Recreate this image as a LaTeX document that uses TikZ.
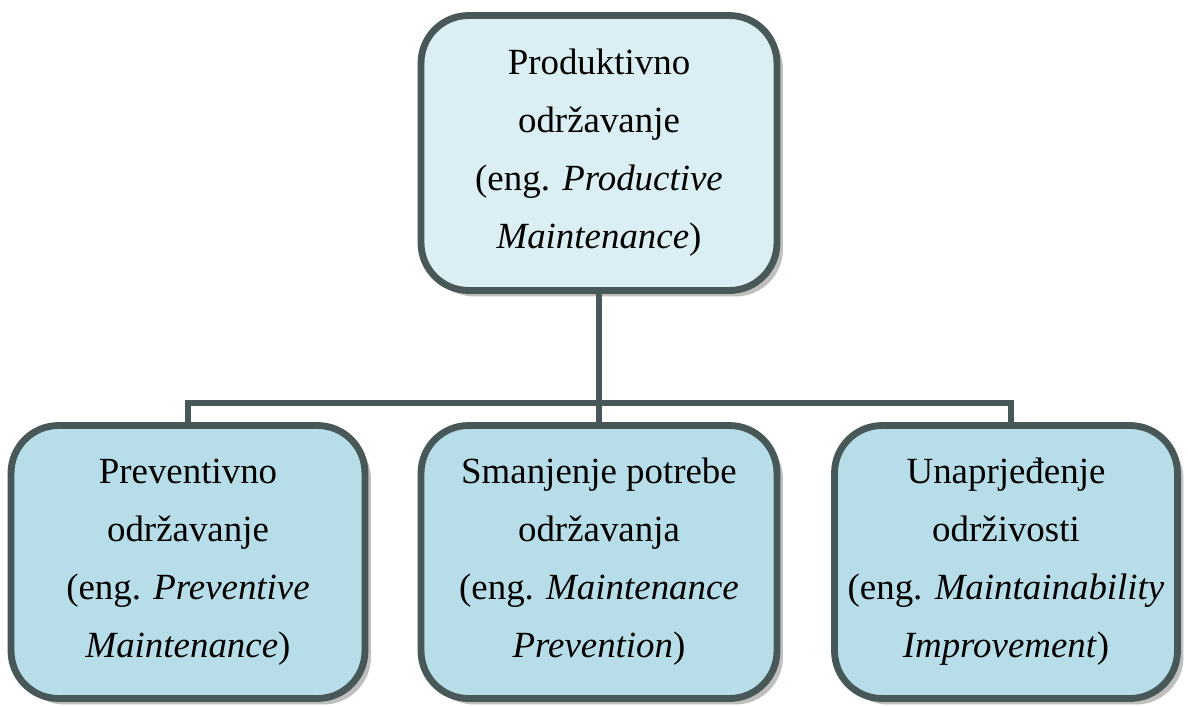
\documentclass[tikz,border=0pt]{standalone}
\usepackage{fontspec}
\setmainfont{Liberation Serif}
\usepackage{xcolor}
\usetikzlibrary{positioning, shadows}
\definecolor{edgegray}{HTML}{485858}
\definecolor{topfill}{HTML}{DAEEF3}
\definecolor{subfill}{HTML}{B7DEE8}
\tikzstyle{block} = [rectangle, draw=edgegray, line width=3.9pt, rounded corners=0.95cm, align=center, font=\fontsize{21}{33}\selectfont, drop shadow={shadow xshift=0.12cm, shadow yshift=-0.12cm, fill=black!25, opacity=1}]
\tikzstyle{link} = [draw=edgegray, line width=3.2pt]

\begin{document}
\begin{tikzpicture}[x=0.02cm, y=-0.02cm]
    \useasboundingbox (0,0) rectangle (1188,707);
    \node (top) [block, fill=topfill, minimum width=7.12cm, minimum height=5.5cm] at (599,153)
        {Produktivno\\održavanje\\(eng. \textit{Productive}\\\textit{Maintenance})};
    \node (b1) [block, fill=subfill, minimum width=7.08cm, minimum height=5.46cm] at (188,562)
        {Preventivno\\održavanje\\(eng. \textit{Preventive}\\\textit{Maintenance})};
    \node (b2) [block, fill=subfill, minimum width=7.12cm, minimum height=5.46cm] at (599,562)
        {Smanjenje potrebe\\održavanja\\(eng. \textit{Maintenance}\\\textit{Prevention})};
    \node (b3) [block, fill=subfill, minimum width=6.86cm, minimum height=5.46cm] at (1006,562)
        {Unaprjeđenje\\održivosti\\(eng. \textit{Maintainability}\\\textit{Improvement})};

    \coordinate (split) at (599,403);
    \draw[link] (top.south) -- (split);
    \draw[link] (split) -| (b1.north);
    \draw[link] (split) -- (b2.north);
    \draw[link] (split) -| ([xshift=0.1cm]b3.north);
\end{tikzpicture}
\end{document}
